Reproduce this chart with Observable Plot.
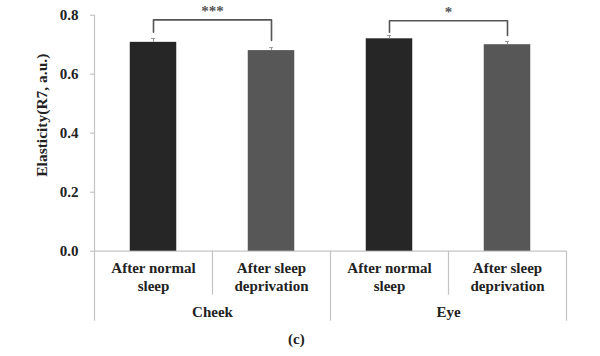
<!DOCTYPE html>
<html>
<head>
<meta charset="utf-8">
<script src="https://cdn.jsdelivr.net/npm/d3@7"></script>
<script src="https://cdn.jsdelivr.net/npm/@observablehq/plot@0.6"></script>
<style>
  body { margin: 0; background: #fff; width: 600px; }
  #caption { font-family: "Liberation Serif", "Times New Roman", serif; font-weight: bold; font-size: 15px; color: #222; height: 26px; line-height: 18px; padding-left: 288px; }
</style>
</head>
<body>
<div id="chart"></div>
<div id="caption">(c)</div>
<script>
// ---- data ----
const categories = ["Cheek|normal", "Cheek|deprivation", "Eye|normal", "Eye|deprivation"];
const groups = ["Cheek", "Cheek", "Eye", "Eye"];
const conditionLabels = ["After normal\nsleep", "After sleep\ndeprivation", "After normal\nsleep", "After sleep\ndeprivation"];
const values = [0.708, 0.680, 0.720, 0.700];
const errors = [0.013, 0.010, 0.011, 0.011];
const barColors = ["#262626", "#575757", "#262626", "#575757"];
const yTicks = [0, 0.2, 0.4, 0.6, 0.8];
const yLabel = "Elasticity(R7, a.u.)";
const groupNames = ["Cheek", "Eye"];
// significance brackets
const bracketFrom = ["Cheek|normal", "Eye|normal"];
const bracketTo = ["Cheek|deprivation", "Eye|deprivation"];
const bracketTop = [0.784, 0.781];
const bracketFromEnd = [0.742, 0.742];
const bracketToEnd = [0.714, 0.731];
const bracketLabels = ["***", "*"];

// ---- build ----
const W = 600, H = 330;
const mL = 94, mR = 34, mT = 14.7, mB = 79.3;
const xScale = Plot.scale({x: {type: "band", domain: categories, range: [mL, W - mR], padding: 0}});
const step = xScale.step;
const barW = 46.5;
const inset = (step - barW) / 2;
const capW = 4;
const firstCat = () => categories[0];

const rows = categories.map((c, i) => ({cat: c, group: groups[i], label: conditionLabels[i], v: values[i], e: errors[i], fill: barColors[i]}));
const bracketPts = [];
bracketLabels.forEach((lab, i) => {
  bracketPts.push({k: i, x: bracketFrom[i], y: bracketFromEnd[i]});
  bracketPts.push({k: i, x: bracketFrom[i], y: bracketTop[i]});
  bracketPts.push({k: i, x: bracketTo[i], y: bracketTop[i]});
  bracketPts.push({k: i, x: bracketTo[i], y: bracketToEnd[i]});
});
const bracketText = bracketLabels.map((l, i) => ({x: bracketFrom[i], y: bracketTop[i], label: l}));
const groupFirst = groupNames.map(g => ({g, cat: categories[groups.indexOf(g)]}));
const font = '"Liberation Serif", "Times New Roman", serif';
const gridColor = "#c4c4c4";

const plot = Plot.plot({
  width: W, height: H,
  marginLeft: mL, marginRight: mR, marginTop: mT, marginBottom: mB,
  style: {fontFamily: font, fontWeight: "bold", fontSize: "15px", color: "#222", background: "#fff"},
  x: {type: "band", domain: categories, padding: 0, axis: null},
  y: {domain: [0, 0.8], axis: null},
  marks: [
    // axis lines
    Plot.ruleY([0], {stroke: gridColor, strokeWidth: 1.2}),
    Plot.ruleX([categories[0]], {y1: 0, y2: 0.8, dx: -step / 2, stroke: gridColor, strokeWidth: 1.2}),
    Plot.tickY(yTicks, {y: d => d, x: firstCat, dx: -step / 2 - 2, insetLeft: step / 2 - 2, insetRight: step / 2 - 2, stroke: gridColor, strokeWidth: 1.2}),
    // category dividers (inner, within a group)
    Plot.ruleX([categories[1], categories[3]], {y1: 0, y2: 0, insetBottom: -44, dx: -step / 2, stroke: gridColor, strokeWidth: 1.2}),
    // group dividers
    Plot.ruleX([categories[0], categories[2]], {y1: 0, y2: 0, insetBottom: -70, dx: -step / 2, stroke: gridColor, strokeWidth: 1.2}),
    Plot.ruleX([categories[3]], {y1: 0, y2: 0, insetBottom: -70, dx: step / 2, stroke: gridColor, strokeWidth: 1.2}),
    // bars
    Plot.barY(rows, {x: "cat", y: "v", fill: "fill", insetLeft: inset, insetRight: inset}),
    // error bars
    Plot.ruleX(rows, {x: "cat", y1: "v", y2: d => d.v + d.e, stroke: "#999", strokeWidth: 1}),
    Plot.tickY(rows, {x: "cat", y: d => d.v + d.e, stroke: "#999", strokeWidth: 1, insetLeft: (step - capW) / 2, insetRight: (step - capW) / 2}),
    // brackets
    Plot.line(bracketPts, {x: "x", y: "y", z: "k", stroke: "#555", strokeWidth: 1.6}),
    Plot.text(bracketText, {x: "x", y: "y", text: "label", dx: step / 2, dy: -4, lineAnchor: "bottom", fontSize: 15, fill: "#555"}),
    // y tick labels
    Plot.text(yTicks, {y: d => d, x: firstCat, text: d => d.toFixed(1), dx: -step / 2 - 16, textAnchor: "end", fontSize: 15, fill: "#222"}),
    // y axis label
    Plot.text([yLabel], {x: firstCat, y: () => 0.4, text: d => d, dx: -step / 2 - 52, dy: -18, rotate: -90, fontSize: 15.5, fill: "#222"}),
    // condition labels
    Plot.text(rows, {x: "cat", y: () => 0, text: "label", dy: 10, lineAnchor: "top", lineHeight: 1.15, fontSize: 15, fill: "#222"}),
    // group labels
    Plot.text(groupFirst, {x: "cat", y: () => 0, text: "g", dx: step / 2, dy: 61, fontSize: 15, fill: "#222"})
  ]
});
document.getElementById("chart").appendChild(plot);
</script>
</body>
</html>
